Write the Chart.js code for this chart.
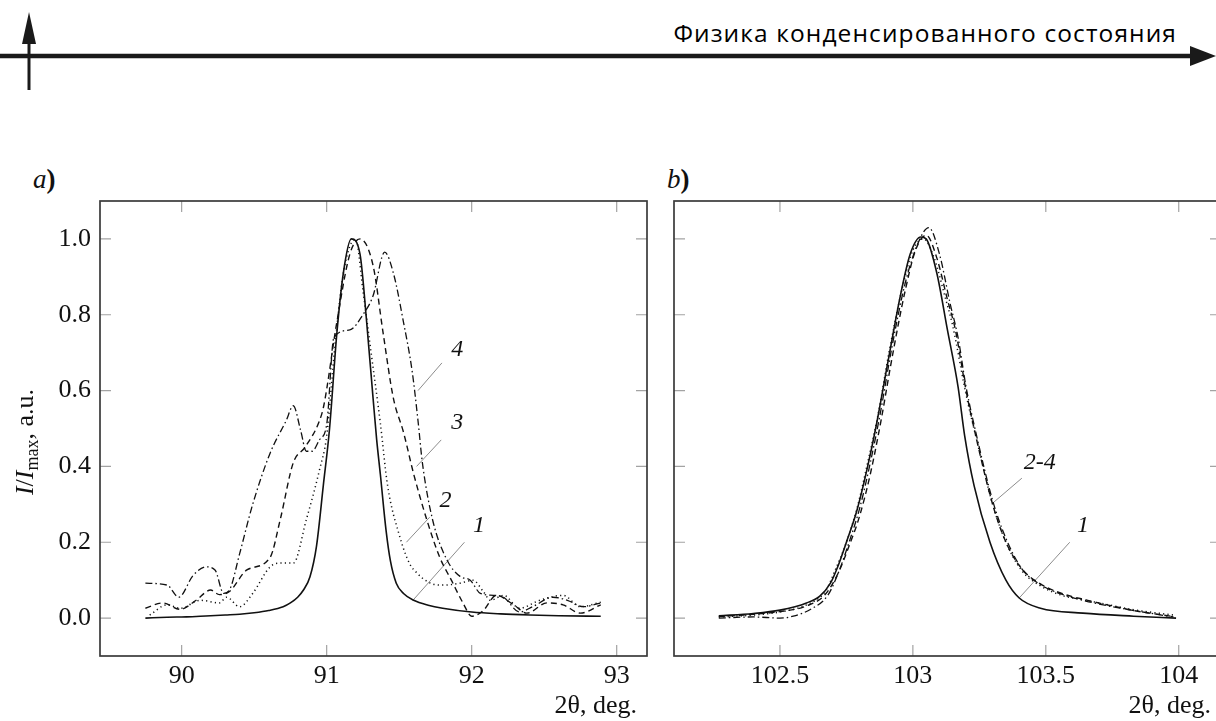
<!DOCTYPE html>
<html><head><meta charset="utf-8">
<script src="https://cdn.jsdelivr.net/npm/chart.js@4.4.1/dist/chart.umd.min.js"></script>
<style>
html,body{margin:0;padding:0;width:1216px;height:721px;overflow:hidden;background:#fff;}
#hdr{position:absolute;right:39px;top:21px;font-family:"Open Sans","Noto Sans",sans-serif;font-size:24.5px;line-height:1;letter-spacing:1.1px;color:#000;white-space:nowrap;}
#hsvg{position:absolute;left:0;top:0;}
canvas{position:absolute;}
#ca{left:0;top:190px;}
#cb{left:660px;top:190px;}
.plab{position:absolute;font-family:"Liberation Serif",serif;font-size:27px;line-height:1;color:#111;}
.plab b{font-weight:bold;}
</style></head>
<body>
<svg id="hsvg" width="1216" height="100">
  <line x1="0" y1="56" x2="1196" y2="56" stroke="#1a1a1a" stroke-width="4.5"/>
  <polygon points="1190,46 1216,56 1190,66" fill="#1a1a1a"/>
  <line x1="29" y1="36" x2="29" y2="90" stroke="#1a1a1a" stroke-width="3"/>
  <polygon points="22,44 29,12 36,44" fill="#1a1a1a"/>
</svg>
<div id="hdr">Физика конденсированного состояния</div>
<div class="plab" style="left:33px;top:166px;"><i>a</i><b>)</b></div>
<div class="plab" style="left:667px;top:166px;"><i>b</i><b>)</b></div>
<canvas id="ca" width="660" height="531"></canvas>
<canvas id="cb" width="575" height="531"></canvas>
<script>
// ---------- data: panel a ----------
const aX1 = [89.75,89.9,90.0,90.1,90.2,90.3,90.4,90.5,90.6,90.7,90.75,90.8,90.84,90.885,90.93,90.977,91.02,91.07,91.115,91.17,91.23,91.276,91.32,91.345,91.37,91.41,91.44,91.48,91.53,91.6,91.7,91.8,92.0,92.2,92.4,92.6,92.89];
const aY1 = [0.000,0.002,0.003,0.004,0.006,0.008,0.010,0.014,0.020,0.030,0.040,0.055,0.074,0.109,0.19,0.35,0.50,0.75,0.91,1.00,0.96,0.78,0.58,0.47,0.38,0.23,0.15,0.092,0.065,0.047,0.034,0.026,0.016,0.011,0.008,0.006,0.005];
const aX2 = [89.78,89.9,89.99,90.13,90.26,90.31,90.4,90.49,90.61,90.68,90.77,90.86,90.95,91.0,91.06,91.12,91.2,91.25,91.31,91.37,91.42,91.5,91.57,91.62,91.7,91.78,91.85,91.92,92.01,92.08,92.13,92.22,92.33,92.47,92.63,92.75,92.89];
const aY2 = [0.008,0.035,0.026,0.047,0.04,0.055,0.03,0.065,0.135,0.145,0.145,0.26,0.39,0.48,0.73,0.92,1.0,0.865,0.69,0.515,0.35,0.22,0.145,0.12,0.095,0.087,0.088,0.092,0.10,0.07,0.047,0.06,0.026,0.047,0.06,0.03,0.042];
const aX3 = [89.75,89.87,89.99,90.1,90.2,90.26,90.33,90.45,90.61,90.68,90.77,90.85,90.95,90.98,91.07,91.16,91.23,91.32,91.39,91.46,91.53,91.6,91.69,91.78,91.86,91.94,92.0,92.08,92.17,92.29,92.38,92.52,92.63,92.75,92.89];
const aY3 = [0.026,0.04,0.023,0.047,0.074,0.062,0.07,0.127,0.16,0.26,0.41,0.45,0.52,0.56,0.78,0.96,1.0,0.93,0.75,0.58,0.49,0.38,0.26,0.16,0.10,0.04,0.005,0.02,0.06,0.035,0.013,0.04,0.035,0.013,0.035];
const aX4 = [89.75,89.9,89.98,90.08,90.17,90.23,90.29,90.33,90.4,90.49,90.61,90.72,90.77,90.82,90.86,90.9,90.95,91.0,91.05,91.16,91.25,91.32,91.4,91.46,91.53,91.59,91.63,91.66,91.73,91.83,91.92,91.99,92.06,92.15,92.22,92.33,92.42,92.56,92.66,92.77,92.89];
const aY4 = [0.092,0.087,0.055,0.113,0.135,0.127,0.065,0.074,0.17,0.30,0.435,0.52,0.56,0.496,0.44,0.44,0.47,0.51,0.74,0.76,0.80,0.85,0.965,0.91,0.78,0.65,0.52,0.41,0.26,0.153,0.11,0.10,0.065,0.06,0.055,0.016,0.03,0.055,0.047,0.03,0.04];
// ---------- data: panel b ----------
const bX1 = [102.27,102.4,102.5,102.6,102.65,102.69,102.72,102.75,102.79,102.83,102.86,102.91,102.95,102.99,103.03,103.05,103.09,103.13,103.17,103.195,103.23,103.29,103.35,103.4,103.48,103.64,103.83,103.99];
const bY1 = [0.006,0.012,0.021,0.04,0.058,0.092,0.14,0.20,0.285,0.40,0.50,0.69,0.84,0.96,1.005,1.0,0.91,0.76,0.61,0.48,0.35,0.20,0.10,0.053,0.026,0.013,0.005,0.0];
const bX2 = [102.27,102.4,102.5,102.6,102.67,102.71,102.75,102.79,102.83,102.87,102.91,102.96,103.0,103.04,103.08,103.12,103.15,103.2,103.24,103.3,103.35,103.41,103.48,103.56,103.65,103.75,103.83,103.98];
const bY2 = [0.003,0.008,0.016,0.035,0.07,0.13,0.20,0.29,0.41,0.54,0.70,0.87,0.97,1.0,0.95,0.85,0.77,0.59,0.47,0.30,0.20,0.125,0.085,0.06,0.047,0.033,0.022,0.008];
const bX3 = [102.27,102.4,102.5,102.6,102.67,102.72,102.76,102.8,102.84,102.88,102.92,102.97,103.01,103.05,103.09,103.13,103.16,103.2,103.24,103.3,103.35,103.41,103.48,103.56,103.65,103.75,103.83,103.98];
const bY3 = [0.004,0.01,0.017,0.032,0.062,0.12,0.19,0.27,0.38,0.52,0.68,0.86,0.97,1.01,0.95,0.84,0.76,0.60,0.47,0.30,0.20,0.13,0.09,0.065,0.048,0.032,0.02,0.004];
const bX4 = [102.27,102.4,102.5,102.55,102.62,102.68,102.72,102.76,102.8,102.84,102.88,102.92,102.97,103.02,103.06,103.1,103.14,103.17,103.2,103.24,103.3,103.35,103.41,103.48,103.56,103.65,103.75,103.83,103.98];
const bY4 = [0.0,0.003,0.0,0.005,0.025,0.06,0.12,0.20,0.29,0.41,0.55,0.71,0.88,0.99,1.03,0.96,0.83,0.74,0.61,0.48,0.31,0.21,0.13,0.088,0.063,0.045,0.03,0.02,0.003];
// ---------- ticks & labels ----------
const xTicksA = [90,91,92,93];
const xTickLabelsA = ['90','91','92','93'];
const xTicksB = [102.5,103,103.5,104];
const xTickLabelsB = ['102.5','103','103.5','104'];
const yTicks = [0,0.2,0.4,0.6,0.8,1.0];
const yTickLabels = ['0.0','0.2','0.4','0.6','0.8','1.0'];
const curveLabelsA = ['4','3','2','1'];
const curveLabelsB = ['2-4','1'];
const xTitle = '2θ, deg.';

// ---------- layout (positions of callouts in data coords) ----------
const calloutPosA = [
  {tx:91.90,ty:0.707,x1:91.795,y1:0.673,x2:91.63,y2:0.60},
  {tx:91.90,ty:0.515,x1:91.79,y1:0.47,x2:91.62,y2:0.40},
  {tx:91.82,ty:0.31,x1:91.71,y1:0.266,x2:91.55,y2:0.20},
  {tx:92.05,ty:0.243,x1:91.95,y1:0.20,x2:91.595,y2:0.047}
];
const calloutPosB = [
  {tx:103.477,ty:0.409,x1:103.41,y1:0.369,x2:103.30,y2:0.303},
  {tx:103.64,ty:0.243,x1:103.59,y1:0.20,x2:103.40,y2:0.053}
];

const SERIF = '"Liberation Serif", "Times New Roman", serif';
const styles = [
  {borderDash:[], borderWidth:1.6},
  {borderDash:[1.2,3.2], borderWidth:1.5},
  {borderDash:[6,4], borderWidth:1.4},
  {borderDash:[7,3,1.5,3], borderWidth:1.3}
];
function mk(xs, ys, i){
  return {data: xs.map((x,k)=>({x:x,y:ys[k]})), borderColor:'#111', borderWidth:styles[i].borderWidth,
    borderDash:styles[i].borderDash, pointRadius:0, fill:false, cubicInterpolationMode:'monotone'};
}

const TL = 11;
const framePlugin = {
  id:'frame',
  beforeDatasetsDraw(chart, args, o){
    const ctx = chart.ctx, a = chart.chartArea, x = chart.scales.x, y = chart.scales.y;
    ctx.save();
    ctx.strokeStyle = '#a3a3a3'; ctx.lineWidth = 1.2;
    ctx.beginPath();
    o.xt.forEach(v=>{ const p = x.getPixelForValue(v);
      ctx.moveTo(p,a.bottom); ctx.lineTo(p,a.bottom-TL); ctx.moveTo(p,a.top); ctx.lineTo(p,a.top+TL); });
    o.yt.forEach(v=>{ const p = y.getPixelForValue(v);
      ctx.moveTo(a.left,p); ctx.lineTo(a.left+TL,p); ctx.moveTo(a.right,p); ctx.lineTo(a.right-TL,p); });
    ctx.stroke();
    ctx.strokeStyle = '#8c8c8c'; ctx.lineWidth = 1;
    ctx.beginPath();
    o.callouts.forEach(c=>{ ctx.moveTo(x.getPixelForValue(c.x1), y.getPixelForValue(c.y1));
      ctx.lineTo(x.getPixelForValue(c.x2), y.getPixelForValue(c.y2)); });
    ctx.stroke();
    ctx.restore();
  },
  afterDatasetsDraw(chart, args, o){
    const ctx = chart.ctx, a = chart.chartArea, x = chart.scales.x, y = chart.scales.y;
    ctx.save();
    ctx.strokeStyle = '#3a3a3a'; ctx.lineWidth = 1.7;
    ctx.strokeRect(a.left, a.top, a.right-a.left, a.bottom-a.top);
    ctx.fillStyle = '#111';
    ctx.font = 'italic 24px ' + SERIF; ctx.textAlign = 'center'; ctx.textBaseline = 'middle';
    o.callouts.forEach((c,i)=>{ ctx.fillText(o.labels[i], x.getPixelForValue(c.tx), y.getPixelForValue(c.ty)); });
    ctx.font = '26px ' + SERIF; ctx.textAlign = 'right';
    ctx.fillText(o.xtitle, a.right - 10, a.bottom + 50);
    if (o.ylabel) {
      ctx.translate(33, 252);
      ctx.rotate(-Math.PI/2);
      const segs = [
        {t:'I', f:'italic 26px '+SERIF, dy:0},
        {t:'/', f:'26px '+SERIF, dy:0},
        {t:'I', f:'italic 26px '+SERIF, dy:0},
        {t:'max', f:'18px '+SERIF, dy:5},
        {t:', a.u.', f:'26px '+SERIF, dy:0}
      ];
      let W = 0; segs.forEach(s=>{ ctx.font = s.f; s.w = ctx.measureText(s.t).width; W += s.w; });
      let u = -W/2; ctx.textAlign = 'left'; ctx.textBaseline = 'alphabetic';
      segs.forEach(s=>{ ctx.font = s.f; ctx.fillText(s.t, u, s.dy); u += s.w; });
    }
    ctx.restore();
  }
};

function makeChart(id, datasets, xmin, xmax, xt, xtl, yWidth, yVisible, callouts, labels, ylabel){
  return new Chart(document.getElementById(id), {
    type:'line',
    data:{datasets:datasets},
    plugins:[framePlugin],
    options:{
      responsive:false, animation:false, devicePixelRatio:1,
      layout:{padding:{left:0, top:11, right:yVisible?13:14, bottom:0}},
      plugins:{legend:{display:false}, tooltip:{enabled:false},
        frame:{xt:xt, yt:yTicks, callouts:callouts, labels:labels, xtitle:xTitle, ylabel:ylabel}},
      scales:{
        x:{type:'linear', min:xmin, max:xmax,
          afterBuildTicks:s=>{ s.ticks = xt.map(v=>({value:v})); },
          afterFit:s=>{ s.height = 65; s.paddingLeft = 0; s.paddingRight = 0; },
          grid:{display:false, drawTicks:false}, border:{display:false},
          ticks:{autoSkip:false, maxRotation:0, padding:5, color:'#111', font:{family:SERIF, size:26},
            callback:(v,i)=>xtl[i]}},
        y:{type:'linear', min:-0.1, max:1.1,
          afterBuildTicks:s=>{ s.ticks = yTicks.map(v=>({value:v})); },
          afterFit:s=>{ s.width = yWidth; s.paddingTop = 0; s.paddingBottom = 0; },
          grid:{display:false, drawTicks:false}, border:{display:false},
          ticks:{display:yVisible, autoSkip:false, padding:9, color:'#111', font:{family:SERIF, size:26},
            callback:(v,i)=>yTickLabels[i]}}
      }
    }
  });
}

makeChart('ca', [mk(aX1,aY1,0), mk(aX2,aY2,1), mk(aX3,aY3,2), mk(aX4,aY4,3)],
  89.437, 93.209, xTicksA, xTickLabelsA, 100, true, calloutPosA, curveLabelsA, true);
makeChart('cb', [mk(bX1,bY1,0), mk(bX2,bY2,1), mk(bX3,bY3,2), mk(bX4,bY4,3)],
  102.1015, 104.159, xTicksB, xTickLabelsB, 14, false, calloutPosB, curveLabelsB, false);
</script>
</body></html>
